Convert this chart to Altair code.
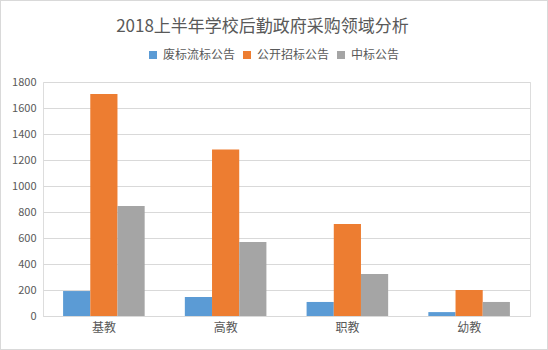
import altair as alt
import pandas as pd

categories = ["基教", "高教", "职教", "幼教"]
series = ["废标流标公告", "公开招标公告", "中标公告"]
values_feibiao = [192, 146, 108, 30]
values_gongkai = [1708, 1280, 708, 200]
values_zhongbiao = [846, 569, 323, 108]
colors = ["#5b9bd5", "#ed7d31", "#a5a5a5"]

rows = []
for s, vals in zip(series, [values_feibiao, values_gongkai, values_zhongbiao]):
    for c, v in zip(categories, vals):
        rows.append({"category": c, "series": s, "value": v})
df = pd.DataFrame(rows)

FONT = "Noto Sans CJK SC"
W, H = 487, 234

bars = alt.Chart(df).mark_bar().encode(
    x=alt.X("category:N", sort=categories, title=None,
            scale=alt.Scale(paddingInner=0.33, paddingOuter=0.165),
            axis=alt.Axis(labelAngle=0, ticks=False, domain=True, domainColor="#d9d9d9",
                          labelFontSize=12, labelColor="#595959", labelFont=FONT,
                          labelPadding=6)),
    xOffset=alt.XOffset("series:N", sort=series),
    y=alt.Y("value:Q", title=None,
            scale=alt.Scale(domain=[0, 1800]),
            axis=alt.Axis(values=list(range(0, 1801, 200)), format="d", domain=False, ticks=False,
                          gridColor="#d9d9d9", labelFontSize=11, labelColor="#595959",
                          labelFont=FONT, labelPadding=7)),
    color=alt.Color("series:N", sort=series,
                    scale=alt.Scale(domain=series, range=colors),
                    legend=alt.Legend(title=None, orient="none", direction="horizontal",
                                      legendX=104, legendY=-33,
                                      symbolType="square", symbolSize=64,
                                      symbolStrokeWidth=0,
                                      labelFontSize=12, labelColor="#595959",
                                      labelFont=FONT, labelOffset=4,
                                      columnPadding=5)),
)

frame = alt.Chart(df).mark_rect(fill=None, stroke="#d9d9d9", strokeWidth=1).encode(
    x=alt.value(-42.5), x2=alt.value(W + 17.5),
    y=alt.value(-81.5), y2=alt.value(H + 33.5),
)

chart = alt.layer(bars, frame).properties(
    width=W, height=H,
    title=alt.TitleParams("2018上半年学校后勤政府采购领域分析", font=FONT, fontSize=17,
                          fontWeight="normal", color="#595959", anchor="middle",
                          dx=-24, offset=-36),
    autosize=alt.AutoSizeParams(type="none"),
    padding={"left": 43, "top": 82, "right": 18, "bottom": 34},
).configure_view(stroke=None).configure(background="white")

chart.save("out.html", embed_options={"renderer": "svg", "actions": False})
